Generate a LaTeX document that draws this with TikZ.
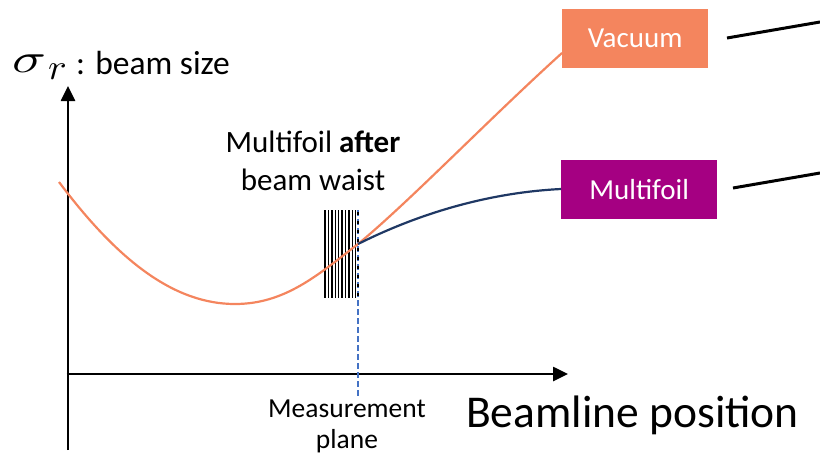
\documentclass[tikz,border=0pt]{standalone}
\usepackage{fontspec}
\setmainfont{Carlito}
\usetikzlibrary{arrows.meta}
\definecolor{vacorange}{RGB}{244,133,94}
\definecolor{foilpurple}{RGB}{165,0,130}
\definecolor{navy}{RGB}{31,56,100}
\definecolor{planeblue}{RGB}{68,114,196}
\tikzset{
  axis/.style={line width=2.6pt, -{Triangle[length=15pt,width=14pt]}},
  legendbox/.style={draw=none, text=white, font=\fontsize{29}{34}\selectfont, inner sep=0pt, anchor=north west},
  legendline/.style={line width=3pt, line cap=butt},
  foilline/.style={line width=1.4pt},
}
\begin{document}
\begin{tikzpicture}[x=1pt,y=-1pt]
\useasboundingbox (0,0) rectangle (820,459);
% axes
\coordinate (ybot) at (68,450);
\coordinate (ytop) at (68,86);
\coordinate (xleft) at (66.7,374);
\coordinate (xright) at (568,374);
\draw[axis] (ybot) -- (ytop);
\draw[axis] (xleft) -- (xright);
% axis labels
\node[anchor=base west, inner sep=0pt] (sig) at (12,72) {\scalebox{5.6}[4.1]{$\sigma$}};
\node[anchor=base west, inner sep=0pt] (sigsub) at (48,79) {\scalebox{3.9}[3.6]{$r$}};
\node[anchor=base west, inner sep=0pt, font=\fontsize{33.5}{33.5}\selectfont] (ylab) at (76,74) {: beam size};
\node[anchor=base west, inner sep=0pt, font=\fontsize{45.5}{45.5}\selectfont] (xlab) at (466,427) {Beamline position};
% foil
\foreach \i in {0,...,9} {
  \draw[foilline] ({325+3.4*\i},210) -- ({325+3.4*\i},298);
}
\coordinate (ptop) at (358,210);
\coordinate (pbot) at (358,396);
\draw[planeblue, line width=1.2pt, dash pattern=on 6pt off 3pt] (ptop) -- (pbot);
\draw[line width=1.2pt, dash pattern=on 3pt off 6pt] (358,212) -- (358,298);
% legend boxes
\node[legendbox, fill=vacorange, minimum width=146pt, minimum height=59pt] (vac) at (562,9) {Vacuum};
\node[legendbox, fill=foilpurple, minimum width=156pt, minimum height=59pt] (mf) at (561,160) {Multifoil};
% curves
\coordinate (vstart) at (59,182);
\coordinate (waist) at (235,304);
\coordinate (split) at (358,244);
\draw[vacorange, line width=2.2pt] (vstart) .. controls (119,262) and (175,304) .. (waist)
  .. controls (285,304) and (318,275) .. (split)
  .. controls (408,203) and (489,119) .. (vac.west |- 0,53);
\draw[navy, line width=2.2pt] (split) .. controls (430,208) and (500,192) .. (mf.west |- 0,189);
% black lines toward right edge
\coordinate (va) at (727,38);
\coordinate (vb) at (820,22);
\coordinate (ma) at (733,188);
\coordinate (mb) at (820,173);
\draw[legendline] (va) -- (vb);
\draw[legendline] (ma) -- (mb);
% texts
\node[align=center, inner sep=0pt, font=\fontsize{31}{38}\selectfont, anchor=base] (foiltxt) at (313,190) {Multifoil \textbf{after}\\beam waist};
\node[align=center, inner sep=0pt, font=\fontsize{27.5}{31}\selectfont, anchor=base] (meas) at (347,448) {Measurement\\plane};
\end{tikzpicture}
\end{document}
